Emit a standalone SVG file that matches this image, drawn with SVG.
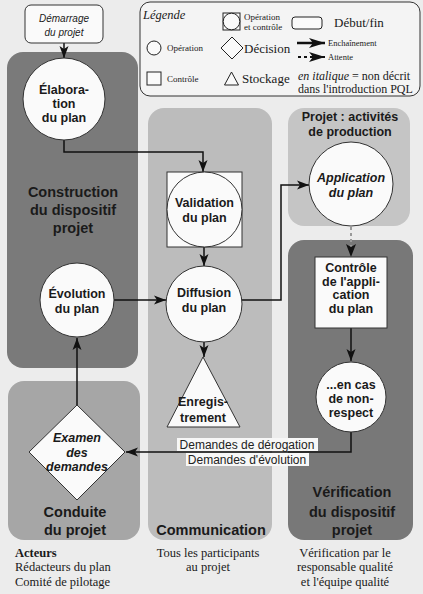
<svg xmlns="http://www.w3.org/2000/svg" width="423" height="594" viewBox="0 0 423 594">
<style>
.pan{stroke:none}
.nd{fill:#fafafa;stroke:#333;stroke-width:1}
.nt{font-family:"Liberation Sans",Arial,sans-serif;font-weight:bold;font-size:12.5px;fill:#1a1a1a;text-anchor:middle}
.dt{font-family:"Liberation Sans",Arial,sans-serif;font-style:italic;font-weight:normal;font-size:10px;fill:#1a1a1a;text-anchor:middle}
.it{font-style:italic}
.pt{font-family:"Liberation Sans",Arial,sans-serif;font-weight:bold;font-size:14.5px;fill:#1a1a1a;text-anchor:middle}
.ser{font-family:"Liberation Serif","Times New Roman",serif;fill:#1a1a1a}
.cn{fill:none;stroke:#111;stroke-width:1.5}
.lab{font-family:"Liberation Sans",Arial,sans-serif;font-size:12px;fill:#222;text-anchor:middle}
</style>
<defs>
<marker id="ah" viewBox="0 0 12 10" refX="12" refY="5" markerWidth="12" markerHeight="10" markerUnits="userSpaceOnUse" orient="auto">
<path d="M0,0.5 L12,5 L0,9.5 L3,5 z" fill="#111"/>
</marker>
<marker id="ahL" viewBox="0 0 16 10" refX="16" refY="5" markerWidth="16" markerHeight="10" markerUnits="userSpaceOnUse" orient="auto">
<path d="M0,0 L16,5 L0,10 L4,5 z" fill="#111"/>
</marker>
</defs>
<rect x="0" y="0" width="423" height="594" fill="#ececec"/>

<g id="panels">
<rect class="pan" x="7" y="52" width="131" height="316" rx="16" fill="#7a7a7a"/>
<rect class="pan" x="8" y="381" width="132" height="159" rx="16" fill="#a6a6a6"/>
<rect class="pan" x="148" y="108" width="124" height="432" rx="16" fill="#bcbcbc"/>
<rect class="pan" x="288" y="108" width="122" height="118" rx="16" fill="#c5c5c5"/>
<rect class="pan" x="288" y="240" width="125" height="300" rx="16" fill="#787878"/>
</g>

<g id="legend">
<rect x="140" y="2" width="280" height="94" rx="10" fill="#f4f4f4" stroke="#333" stroke-width="1"/>
<text class="ser it" x="143" y="19" font-size="12.5">Légende</text>
<rect x="223" y="13" width="17" height="17" fill="#fafafa" stroke="#222"/>
<circle cx="231.5" cy="21.5" r="8.3" fill="#fafafa" stroke="#222"/>
<text class="ser" x="244" y="19.5" font-size="9">Opération</text>
<text class="ser" x="244" y="29.5" font-size="9">et contrôle</text>
<rect x="292" y="17" width="30" height="12" rx="3" fill="#fafafa" stroke="#222"/>
<text class="ser" x="334" y="27" font-size="13">Début/fin</text>
<circle cx="154" cy="48" r="7" fill="#fafafa" stroke="#222"/>
<text class="ser" x="167" y="51" font-size="9">Opération</text>
<path d="M232,37 L243,48 L232,59 L221,48 z" fill="#fafafa" stroke="#222"/>
<text class="ser" x="244" y="52.5" font-size="13">Décision</text>
<line x1="297" y1="43" x2="325" y2="43" stroke="#111" stroke-width="2.5" marker-end="url(#ahL)"/>
<text class="ser" x="328" y="46" font-size="8.5">Enchaînement</text>
<line x1="298" y1="57" x2="325" y2="57" stroke="#111" stroke-width="2" stroke-dasharray="3,3" marker-end="url(#ahL)"/>
<text class="ser" x="328" y="60" font-size="8.5">Attente</text>
<rect x="147" y="72" width="14" height="13" fill="#fafafa" stroke="#222"/>
<text class="ser" x="167" y="82" font-size="9">Contrôle</text>
<path d="M231.5,72 L238.5,85 L224.5,85 z" fill="#fafafa" stroke="#222"/>
<text class="ser" x="242" y="83" font-size="13">Stockage</text>
<text class="ser" x="298" y="80" font-size="12"><tspan font-style="italic">en italique</tspan> = non décrit</text>
<text class="ser" x="298" y="92.5" font-size="12">dans l'introduction PQL</text>
</g>

<g id="panel-labels">
<text class="pt" x="73" y="197">Construction</text>
<text class="pt" x="73" y="215">du dispositif</text>
<text class="pt" x="73" y="233">projet</text>
<text class="pt" x="75" y="517">Conduite</text>
<text class="pt" x="75" y="535">du projet</text>
<text class="pt" x="211" y="535">Communication</text>
<text class="pt" x="352" y="497">Vérification</text>
<text class="pt" x="352" y="517">du dispositif</text>
<text class="pt" x="352" y="535">projet</text>
<text class="nt" x="350" y="121" font-size="12">Projet : activités</text>
<text class="nt" x="350" y="136" font-size="12">de production</text>
</g>

<g id="connectors">
<line class="cn" x1="64" y1="43" x2="64" y2="58" marker-end="url(#ah)"/>
<polyline class="cn" points="64,140 64,152 203,152 203,172" marker-end="url(#ah)"/>
<line class="cn" x1="204" y1="247" x2="204" y2="266" marker-end="url(#ah)"/>
<line class="cn" x1="114" y1="300" x2="166" y2="300" marker-end="url(#ah)"/>
<line class="cn" x1="204" y1="342" x2="204" y2="357" marker-end="url(#ah)"/>
<polyline class="cn" points="242,300 281,300 281,185 309,185" marker-end="url(#ah)"/>
<line x1="351" y1="227" x2="351" y2="247" stroke="#9a9a9a" stroke-width="2" stroke-dasharray="3,3"/>
<path d="M351,257 L346,244 L351,247 L356,244 z" fill="#111"/>
<line class="cn" x1="351" y1="328" x2="351" y2="361" marker-end="url(#ah)"/>
<polyline class="cn" points="351,432 351,452 126,452" marker-end="url(#ah)"/>
<line class="cn" x1="77" y1="405" x2="77" y2="338" marker-end="url(#ah)"/>
<rect x="177" y="438" width="141" height="13" fill="#f7f7f7"/>
<rect x="186" y="453" width="123" height="13" fill="#f7f7f7"/>
<text class="lab" x="247" y="449">Demandes de dérogation</text>
<text class="lab" x="247" y="464">Demandes d'évolution</text>
</g>

<g id="demarrage">
<rect class="nd" x="25" y="5" width="78" height="38" rx="6"/>
<text class="dt" x="64" y="22">Démarrage</text>
<text class="dt" x="64" y="36">du projet</text>
</g>

<g id="elaboration">
<circle class="nd" cx="64" cy="99" r="41"/>
<text class="nt" x="64" y="94" font-size="14">Élabora-</text>
<text class="nt" x="64" y="108" font-size="14">tion</text>
<text class="nt" x="64" y="122" font-size="14">du plan</text>
</g>

<g id="evolution">
<circle class="nd" cx="77" cy="300" r="37"/>
<text class="nt" x="77" y="298">Évolution</text>
<text class="nt" x="77" y="313">du plan</text>
</g>

<g id="validation">
<rect class="nd" x="167" y="172" width="75" height="75"/>
<circle class="nd" cx="204.5" cy="209.5" r="37.5"/>
<text class="nt" x="204.5" y="207">Validation</text>
<text class="nt" x="204.5" y="222">du plan</text>
</g>

<g id="diffusion">
<circle class="nd" cx="204" cy="304" r="38"/>
<text class="nt" x="204" y="297">Diffusion</text>
<text class="nt" x="204" y="312">du plan</text>
</g>

<g id="enregistrement">
<path class="nd" d="M203,357 L240,427 L167,427 z"/>
<text class="nt" x="203" y="406" font-size="13">Enregis-</text>
<text class="nt" x="203" y="422" font-size="13">trement</text>
</g>

<g id="application">
<circle class="nd" cx="351" cy="184" r="42"/>
<text class="nt it" x="351" y="182" font-size="13.5">Application</text>
<text class="nt it" x="351" y="197" font-size="13.5">du plan</text>
</g>

<g id="controle">
<rect class="nd" x="315" y="257" width="72" height="71"/>
<text class="nt" x="351" y="272">Contrôle</text>
<text class="nt" x="351" y="286">de l'appli-</text>
<text class="nt" x="351" y="299">cation</text>
<text class="nt" x="351" y="313">du plan</text>
</g>

<g id="non-respect">
<circle class="nd" cx="351" cy="397" r="35"/>
<text class="nt" x="351" y="389">...en cas</text>
<text class="nt" x="351" y="403">de non-</text>
<text class="nt" x="351" y="417">respect</text>
</g>

<g id="examen">
<path class="nd" d="M77,405 L125,452 L77,500 L29,452 z"/>
<text class="nt it" x="77" y="442">Examen</text>
<text class="nt it" x="77" y="457">des</text>
<text class="nt it" x="77" y="471">demandes</text>
</g>

<g id="footer">
<text class="ser" x="15" y="557" font-size="12.5" font-weight="bold">Acteurs</text>
<text class="ser" x="15" y="571" font-size="12.5">Rédacteurs du plan</text>
<text class="ser" x="15" y="586" font-size="12.5">Comité de pilotage</text>
<text class="ser" x="208" y="557" font-size="12.5" text-anchor="middle">Tous les participants</text>
<text class="ser" x="208" y="571" font-size="12.5" text-anchor="middle">au projet</text>
<text class="ser" x="345" y="557" font-size="12.5" text-anchor="middle">Vérification par le</text>
<text class="ser" x="345" y="571" font-size="12.5" text-anchor="middle">responsable qualité</text>
<text class="ser" x="345" y="586" font-size="12.5" text-anchor="middle">et l'équipe qualité</text>
</g>
</svg>
